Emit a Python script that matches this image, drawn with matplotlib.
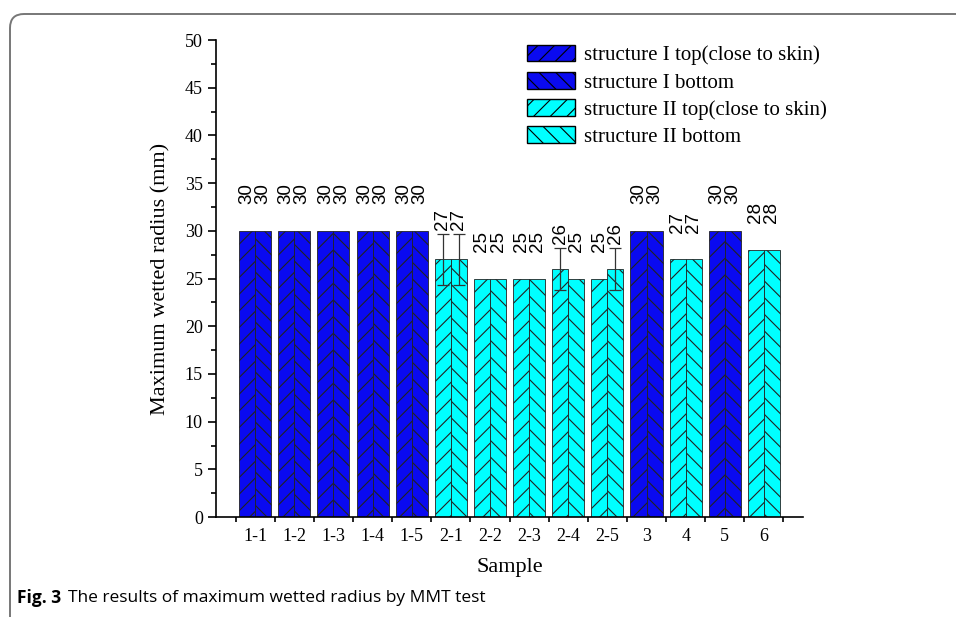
import numpy as np
import matplotlib
matplotlib.use('Agg')
import matplotlib.pyplot as plt
import matplotlib.patches as mpatches
from matplotlib.transforms import IdentityTransform

samples = ['1-1', '1-2', '1-3', '1-4', '1-5', '2-1', '2-2', '2-3', '2-4', '2-5', '3', '4', '5', '6']
structure = ['I', 'I', 'I', 'I', 'I', 'II', 'II', 'II', 'II', 'II', 'I', 'II', 'I', 'II']
top_vals = [30, 30, 30, 30, 30, 27, 25, 25, 26, 25, 30, 27, 30, 28]
bottom_vals = [30, 30, 30, 30, 30, 27, 25, 25, 25, 26, 30, 27, 30, 28]
top_err = [0, 0, 0, 0, 0, 2.7, 0, 0, 2.2, 0, 0, 0, 0, 0]
bottom_err = [0, 0, 0, 0, 0, 2.7, 0, 0, 0, 2.2, 0, 0, 0, 0]

col_I = '#0a0af0'
col_II = '#00ffff'

plt.rcParams['hatch.linewidth'] = 0.8
serif = ['Liberation Serif', 'DejaVu Serif']

fig = plt.figure(figsize=(9.56, 6.17), dpi=100)
ax = fig.add_axes([0.226, 0.162, 0.614, 0.773])

x = np.arange(1, len(samples) + 1)
w = 0.41
colors = [col_I if s == 'I' else col_II for s in structure]

ax.bar(x - w / 2, top_vals, w, color=colors, edgecolor='#222222', linewidth=0.6, hatch='//')
ax.bar(x + w / 2, bottom_vals, w, color=colors, edgecolor='#222222', linewidth=0.6, hatch='\\\\')

# error bars where present
for xs, vals, errs in [(x - w / 2, top_vals, top_err), (x + w / 2, bottom_vals, bottom_err)]:
    for xi, v, e in zip(xs, vals, errs):
        if e > 0:
            ax.errorbar(xi, v, yerr=e, fmt='none', ecolor='#333333', elinewidth=0.9, capsize=4, capthick=0.9)

# value labels
for xs, vals, errs in [(x - w / 2, top_vals, top_err), (x + w / 2, bottom_vals, bottom_err)]:
    for xi, v, e in zip(xs, vals, errs):
        y0 = v + e + 0.4 if e > 0 else v + 2.8
        ax.text(xi, y0, str(v), rotation=90, ha='center', va='bottom',
                fontsize=13.5, family=['Liberation Sans', 'DejaVu Sans'])

ax.set_xlim(0, 15)
ax.set_ylim(0, 50)
ax.set_xticks(x)
ax.set_xticklabels(samples)
ax.set_xticks(np.arange(0.5, 15.5, 1), minor=True)
ax.set_yticks(np.arange(0, 51, 5))
ax.set_yticks(np.arange(0, 51, 2.5), minor=True)
ax.spines['top'].set_visible(False)
ax.spines['right'].set_visible(False)
ax.spines['left'].set_linewidth(1.2)
ax.spines['bottom'].set_linewidth(1.2)
ax.tick_params(axis='both', which='major', direction='out', length=6, width=1.2, labelsize=13)
ax.tick_params(axis='both', which='minor', direction='out', length=3.5, width=1.2)
ax.tick_params(axis='x', which='major', length=0, pad=8)
for lab in ax.get_xticklabels() + ax.get_yticklabels():
    lab.set_family(serif)

ax.set_xlabel('Sample', fontsize=16, family=serif, labelpad=9)
ax.set_ylabel('Maximum wetted radius (mm)', fontsize=16, family=serif, labelpad=10)

handles = [
    mpatches.Patch(facecolor=col_I, edgecolor='black', hatch='//', label='structure I top(close to skin)'),
    mpatches.Patch(facecolor=col_I, edgecolor='black', hatch='\\\\', label='structure I bottom'),
    mpatches.Patch(facecolor=col_II, edgecolor='black', hatch='//', label='structure II top(close to skin)'),
    mpatches.Patch(facecolor=col_II, edgecolor='black', hatch='\\\\', label='structure II bottom'),
]
ax.legend(handles=handles, loc='upper left', bbox_to_anchor=(0.53, 0.99), frameon=False,
          borderaxespad=0, borderpad=0,
          prop={'family': serif, 'size': 15}, handlelength=2.3, handleheight=0.85,
          handletextpad=0.45, labelspacing=0.32)

# rounded figure frame
frame = mpatches.FancyBboxPatch((10, -60), 1100, 617 - 14 + 60,
                                boxstyle='round,pad=0,rounding_size=14',
                                transform=IdentityTransform(), fill=False,
                                edgecolor='#777777', linewidth=1.4)
fig.patches.append(frame)

fig.text(17 / 956, 1 - 598 / 617, 'Fig. 3', fontsize=12.5, fontweight='bold',
         family=['Open Sans', 'DejaVu Sans'], va='center', ha='left')
fig.text(68 / 956, 1 - 598 / 617, 'The results of maximum wetted radius by MMT test', fontsize=12.5,
         family=['Open Sans', 'DejaVu Sans'], va='center', ha='left')

fig.savefig('out.png', dpi=100)
